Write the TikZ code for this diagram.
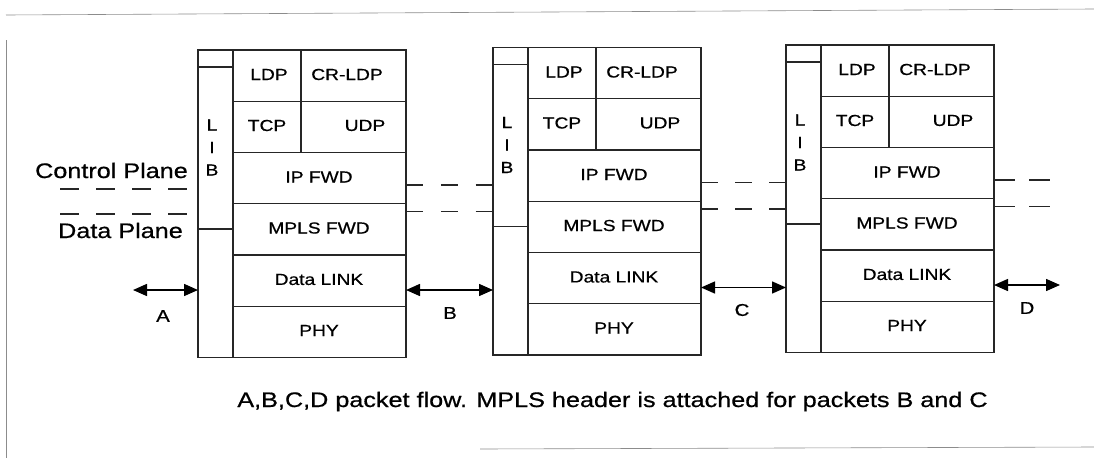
\documentclass[tikz,border=0pt]{standalone}
\usepackage{fontspec}
\setmainfont{Liberation Sans}[FakeStretch=1.2, FakeBold=0.7]
\usetikzlibrary{arrows.meta}

% One protocol stack: LIB column on the left, six layer rows on the right
\tikzset{
  box/.style={line width=1.1pt, draw=black!85},
  layer/.style={font=\fontsize{16}{18}\selectfont, inner sep=0pt},
  libtext/.style={font=\fontsize{16}{22.5}\selectfont, inner sep=0pt, align=center},
  pics/protostack/.style={code={
    \draw[box] (0,0) rectangle (208,307.5);
    \draw[box] (35,0) -- (35,307.5);
    \draw[box] (0,17) -- (35,17) (0,179) -- (35,179);
    \foreach \r in {1,...,5} \draw[box] (35,\r*51.25) -- (208,\r*51.25);
    \draw[box] (103,0) -- (103,102.5);
    \node[libtext] (-lib)   at (14,97.5)  {L\\I\\B};
    \node[layer]   (-ldp)   at (71,24.5)  {LDP};
    \node[layer]   (-crldp) at (149,24.5) {CR-LDP};
    \node[layer]   (-tcp)   at (69,75.5)  {TCP};
    \node[layer]   (-udp)   at (167,75.5) {UDP};
    \node[layer]   (-ipfwd) at (121,127)  {IP FWD};
    \node[layer]   (-mpls)  at (121,178)  {MPLS FWD};
    \node[layer]   (-link)  at (121,229.5){Data LINK};
    \node[layer]   (-phy)   at (121,280.5){PHY};
    \coordinate (-cpL) at (0,135);
    \coordinate (-cpR) at (208,135);
    \coordinate (-dpL) at (0,161.5);
    \coordinate (-dpR) at (208,161.5);
    \coordinate (-aL) at (0,240);
    \coordinate (-aR) at (208,240);
  }}
}

\begin{document}
\begin{tikzpicture}[x=1pt,y=-1pt,
  plane/.style={line width=1.1pt, draw=black!85},
  flow/.style={line width=1.5pt, {Triangle[length=14pt,width=12pt]}-{Triangle[length=14pt,width=12pt]}},
  tag/.style={font=\fontsize{17}{19}\selectfont, inner sep=0pt},
  legend/.style={font=\fontsize{21}{24}\selectfont, inner sep=0pt},
  frame/.style={line width=0.6pt, draw=black!45}
]
\useasboundingbox (0,0) rectangle (1094,458);

% page edges
\draw[frame] (6,15) -- (1094,9);
\draw[frame] (6,40) -- (6,458);
\draw[frame] (480,449) -- (1094,447);

% the three stacks
\pic (s1) at (198,50)   {protostack};
\pic (s2) at (493,47.5) {protostack};
\pic (s3) at (786,45)   {protostack};

% control / data plane legend
\node[legend] (cplane) at (111.5,170.5) {Control Plane};
\node[legend] (dplane) at (120.5,230.5) {Data Plane};
\coordinate (cpA) at (60,189);
\coordinate (cpB) at (187,189);
\coordinate (dpA) at (60,214);
\coordinate (dpB) at (187,214);
\draw[plane, dash pattern=on 19pt off 17pt] (cpA) -- (cpB);
\draw[plane, dash pattern=on 19pt off 17pt] (dpA) -- (dpB);

% plane links between the stacks
\draw[plane, dash pattern=on 17.4pt off 17.4pt] (s1-cpR) -- (s1-cpR -| s2-cpL);
\draw[plane, dash pattern=on 17.4pt off 17.4pt] (s1-dpR) -- (s1-dpR -| s2-dpL);
\draw[plane, dash pattern=on 17pt off 17pt] (s2-cpR) -- (s2-cpR -| s3-cpL);
\draw[plane, dash pattern=on 17pt off 17pt] (s2-dpR) -- (s2-dpR -| s3-dpL);
\coordinate (cpEnd) at (1050,180);
\coordinate (dpEnd) at (1050,206.5);
\draw[plane, dash pattern=on 21pt off 14pt] (s3-cpR) -- (s3-cpR -| cpEnd);
\draw[plane, dash pattern=on 21pt off 14pt] (s3-dpR) -- (s3-dpR -| dpEnd);

% packet flows
\coordinate (aEnd) at (133,290);
\coordinate (dEnd) at (1060,285);
\draw[flow] (aEnd) -- (s1-aL);
\draw[flow] (s1-aR) -- (s1-aR -| s2-aL);
\draw[flow] (s2-aR) -- (s2-aR -| s3-aL);
\draw[flow] (s3-aR) -- (dEnd);
\node[tag] (labA) at (163,316) {A};
\node[tag] (labB) at (450,313) {B};
\node[tag] (labC) at (742,310) {C};
\node[tag] (labD) at (1027,308) {D};

% caption
\node[font=\fontsize{21}{24}\selectfont, inner sep=0pt, anchor=base] (caption) at (612.5,407)
  {A,B,C,D packet flow. MPLS header is attached for packets B and C};
\end{tikzpicture}
\end{document}
